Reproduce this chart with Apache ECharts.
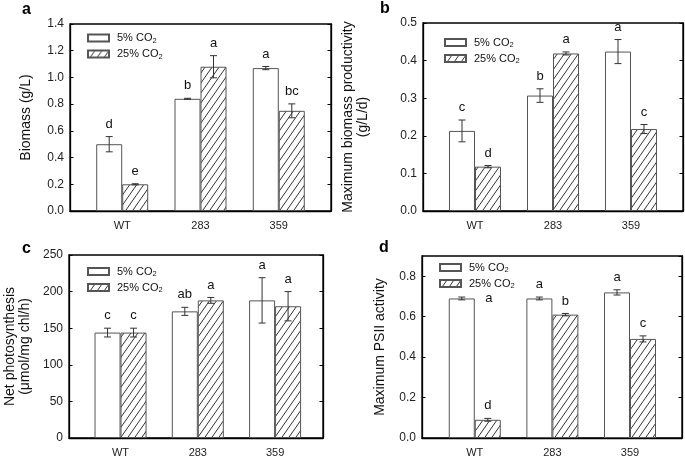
<!DOCTYPE html>
<html><head><meta charset="utf-8">
<script src="https://cdn.jsdelivr.net/npm/echarts@6/dist/echarts.min.js"></script>
<style>html,body{margin:0;padding:0;background:#fff}#c{width:685px;height:458px}</style>
</head><body><div id="c"></div>
<script>
// ---------------- data ----------------
const categories = ['WT', '283', '359'];
const seriesNames = ['5% CO2', '25% CO2'];

// a: Biomass (g/L)
const biomass5 = [0.50, 0.84, 1.07];
const biomass5Err = [0.057, 0.004, 0.012];
const biomass25 = [0.20, 1.08, 0.75];
const biomass25Err = [0.004, 0.083, 0.052];
const biomass5Letters = ['d', 'b', 'a'];
const biomass25Letters = ['e', 'a', 'bc'];

// b: Maximum biomass productivity (g/L/d)
const productivity5 = [0.213, 0.307, 0.424];
const productivity5Err = [0.029, 0.018, 0.032];
const productivity25 = [0.118, 0.419, 0.218];
const productivity25Err = [0.003, 0.004, 0.012];
const productivity5Letters = ['c', 'b', 'a'];
const productivity25Letters = ['d', 'a', 'c'];

// c: Net photosynthesis (umol/mg chl/h)
const photosynthesis5 = [144, 173, 188];
const photosynthesis5Err = [6, 5.5, 31];
const photosynthesis25 = [144, 188, 180];
const photosynthesis25Err = [6, 4, 20];
const photosynthesis5Letters = ['c', 'ab', 'a'];
const photosynthesis25Letters = ['c', 'a', 'a'];

// d: Maximum PSII activity
const psii5 = [0.69, 0.69, 0.72];
const psii5Err = [0.007, 0.007, 0.013];
const psii25 = [0.09, 0.61, 0.49];
const psii25Err = [0.007, 0.006, 0.015];
const psii5Letters = ['a', 'a', 'a'];
const psii25Letters = ['d', 'b', 'c'];
const psii5LetterSide = ['right', 'top', 'top'];

// y-axis ticks
const yTicksA = {min: 0, max: 1.4, interval: 0.2, decimals: 1};
const yTicksB = {min: 0, max: 0.5, interval: 0.1, decimals: 1};
const yTicksC = {min: 0, max: 250, interval: 50, decimals: 0};
const yTicksD = {min: 0, max: 0.9, interval: 0.2, decimals: 1, hideMax: true};

// ---------------- layout ----------------
const FONT = "'Liberation Sans', Arial, Helvetica, sans-serif";
const panels = [
  {tag: 'a', data: [[biomass5, biomass5Err, biomass5Letters], [biomass25, biomass25Err, biomass25Letters]], ticks: yTicksA,
   name: 'Biomass (g/L)', nameGap: 36, grid: {left: 70, top: 24, width: 261, height: 187}, xr: [0.333, 3.667],
   legend: {left: 87, top: 32}, tagPos: [22, 2]},
  {tag: 'b', data: [[productivity5, productivity5Err, productivity5Letters], [productivity25, productivity25Err, productivity25Letters]], ticks: yTicksB,
   name: 'Maximum biomass productivity\n(g/L/d)', nameGap: 52, grid: {left: 423, top: 23, width: 260, height: 188}, xr: [0.333, 3.667],
   legend: {left: 444, top: 36.5}, tagPos: [380, 1]},
  {tag: 'c', data: [[photosynthesis5, photosynthesis5Err, photosynthesis5Letters], [photosynthesis25, photosynthesis25Err, photosynthesis25Letters]], ticks: yTicksC,
   name: 'Net photosynthesis\n(\u03bcmol/mg chl/h)', nameGap: 36, grid: {left: 69, top: 255, width: 254, height: 186}, xr: [0.333, 3.62],
   legend: {left: 87, top: 265.5}, tagPos: [22, 241]},
  {tag: 'd', data: [[psii5, psii5Err, psii5Letters, psii5LetterSide], [psii25, psii25Err, psii25Letters]], ticks: yTicksD,
   name: 'Maximum PSII activity', nameGap: 34, grid: {left: 422, top: 256, width: 260, height: 185}, xr: [0.32, 3.67],
   legend: {left: 439, top: 261.5}, tagPos: [379, 240]}
];

// hatch pattern
const pc = document.createElement('canvas');
pc.width = 7; pc.height = 10;
const pctx = pc.getContext('2d');
pctx.fillStyle = '#fff'; pctx.fillRect(0, 0, 7, 10);
pctx.strokeStyle = '#333'; pctx.lineWidth = 1;
[-7, 0, 7].forEach(dx => {
  pctx.beginPath(); pctx.moveTo(dx, 10); pctx.lineTo(dx + 7, 0); pctx.stroke();
});
const hatch = {image: pc, repeat: 'repeat'};

const BAR_W = 26;
const grids = [], xAxes = [], yAxes = [], series = [], legends = [], graphics = [];

panels.forEach((p, pi) => {
  grids.push(Object.assign({show: true, borderColor: '#000', borderWidth: 1.3, backgroundColor: 'transparent'}, p.grid));
  xAxes.push({
    type: 'value', gridIndex: pi, min: p.xr[0], max: p.xr[1],
    axisLine: {show: true, lineStyle: {color: '#000', width: 1.3}}, axisTick: {show: false}, splitLine: {show: false},
    axisLabel: {customValues: [1, 2, 3], formatter: v => categories[Math.round(v) - 1] || '', fontSize: 11, color: '#222', fontFamily: FONT, margin: 9}
  });
  const t = p.ticks;
  const fmt = v => (t.hideMax && Math.abs(v - t.max) < 1e-9) ? '' : Number(v).toFixed(t.decimals);
  yAxes.push({
    type: 'value', gridIndex: pi, min: t.min, max: t.max, interval: t.interval, position: 'left',
    name: p.name, nameLocation: 'middle', nameGap: p.nameGap,
    nameTextStyle: {fontSize: 14, color: '#111', fontFamily: FONT, lineHeight: 15.5},
    axisLine: {show: true, lineStyle: {color: '#000', width: 1.3}},
    axisTick: {show: true, inside: true, length: 3.5, lineStyle: {color: '#000', width: 1}},
    splitLine: {show: false},
    axisLabel: {formatter: fmt, fontSize: 12, color: '#222', fontFamily: FONT, margin: 6, showMaxLabel: !t.hideMax}
  });
  yAxes.push({
    type: 'value', gridIndex: pi, min: t.min, max: t.max, interval: t.interval, position: 'right',
    axisLine: {show: true, lineStyle: {color: '#000', width: 1.3}},
    axisTick: {show: true, inside: true, length: 3.5, lineStyle: {color: '#000', width: 1}},
    splitLine: {show: false}, axisLabel: {show: false}
  });
  const yIdx = pi * 2;
  p.data.forEach((d, si) => {
    const [vals, errs, letters, sides] = d;
    series.push({
      type: 'bar', name: seriesNames[si], xAxisIndex: pi, yAxisIndex: yIdx,
      barWidth: BAR_W, barGap: '0%',
      itemStyle: {color: si === 0 ? '#fff' : hatch, borderColor: '#555', borderWidth: 1},
      emphasis: {disabled: true}, animation: false,
      data: vals.map((v, i) => [i + 1, v])
    });
    const off = (si === 0 ? -1 : 1) * BAR_W / 2;
    series.push({
      type: 'custom', xAxisIndex: pi, yAxisIndex: yIdx, animation: false, silent: true, z: 5,
      data: vals.map((v, i) => [i + 1, v, errs[i]]),
      renderItem: (params, api) => {
        const x = api.value(0), v = api.value(1), e = api.value(2);
        const top = api.coord([x, v + e]), bot = api.coord([x, v - e]), mid = api.coord([x, v]);
        const cx = top[0] + off;
        const st = {stroke: '#333', lineWidth: 1};
        const cap = 3.5;
        const side = sides ? sides[params.dataIndex] : 'top';
        const tx = side === 'right' ? cx + BAR_W + 1 : cx;
        const ty = side === 'right' ? mid[1] : top[1] - 12.5;
        return {type: 'group', children: [
          {type: 'line', shape: {x1: cx, y1: top[1], x2: cx, y2: bot[1]}, style: st},
          {type: 'line', shape: {x1: cx - cap, y1: top[1], x2: cx + cap, y2: top[1]}, style: st},
          {type: 'line', shape: {x1: cx - cap, y1: bot[1], x2: cx + cap, y2: bot[1]}, style: st},
          {type: 'text', x: tx, y: ty, style: {text: letters[params.dataIndex], fill: '#111', font: '13px ' + FONT, textAlign: 'center', textVerticalAlign: 'middle'}}
        ]};
      }
    });
  });
  legends.push({
    left: p.legend.left, top: p.legend.top, orient: 'vertical', padding: 0, icon: 'rect',
    itemWidth: 21, itemHeight: 7, itemGap: 3.5, selectedMode: false,
    data: seriesNames,
    formatter: n => '{t|' + n.slice(0, -1) + '}{s|' + n.slice(-1) + '}',
    textStyle: {fontFamily: FONT, fontSize: 11, color: '#111', lineHeight: 12,
      rich: {t: {fontSize: 11, fontFamily: FONT, color: '#111', padding: [0, 0, 0, 3]},
             s: {fontSize: 7.5, fontFamily: FONT, color: '#111', padding: [5, 0, 0, 0]}}}
  });
  graphics.push({type: 'text', left: p.tagPos[0], top: p.tagPos[1], style: {text: p.tag, font: 'bold 16px ' + FONT, fill: '#000'}});
});

const chart = echarts.init(document.getElementById('c'), null, {renderer: 'canvas'});
chart.setOption({
  animation: false, backgroundColor: '#fff',
  grid: grids, xAxis: xAxes, yAxis: yAxes, series: series, legend: legends, graphic: graphics
});
</script></body></html>
